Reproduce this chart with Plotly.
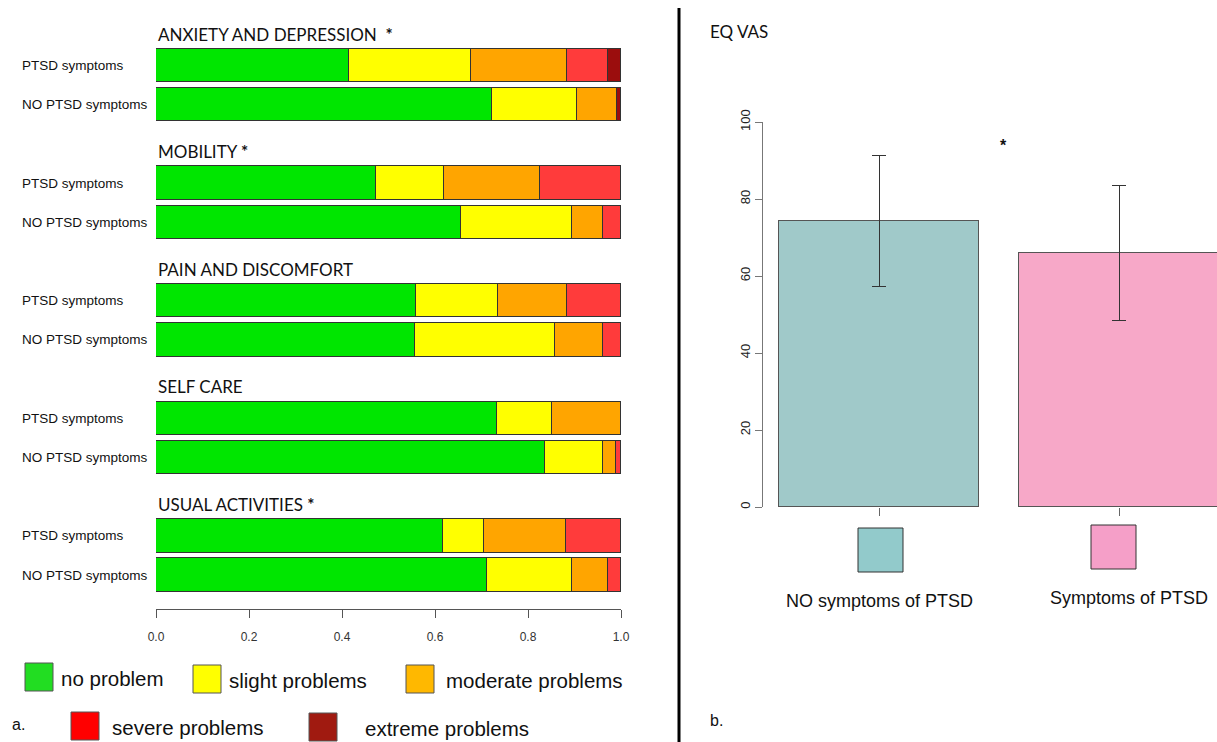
import plotly.graph_objects as go

W, H = 1217, 742

# ---------------- data: panel a (EQ-5D dimensions) ----------------
groups = ["ANXIETY AND DEPRESSION", "MOBILITY", "PAIN AND DISCOMFORT", "SELF CARE", "USUAL ACTIVITIES"]
significant = [True, True, False, False, True]
star_style = ["  <b>*</b>", " <b>*</b>", "", "", " <b>*</b>"]
row_labels = ["PTSD symptoms", "NO PTSD symptoms"]

levels = ["no problem", "slight problems", "moderate problems", "severe problems", "extreme problems"]
no_problem = [0.414, 0.722, 0.473, 0.655, 0.559, 0.557, 0.734, 0.836, 0.617, 0.712]
slight     = [0.263, 0.183, 0.146, 0.240, 0.177, 0.300, 0.118, 0.125, 0.089, 0.182]
moderate   = [0.207, 0.086, 0.207, 0.067, 0.147, 0.105, 0.148, 0.028, 0.176, 0.077]
severe     = [0.088, None,  0.174, 0.038, 0.117, 0.038, None,  0.011, 0.118, 0.029]
extreme    = [0.028, 0.009, None,  None,  None,  None,  None,  None,  None,  None]
x_ticks = [0.0, 0.2, 0.4, 0.6, 0.8, 1.0]

# ---------------- data: panel b (EQ VAS) ----------------
vas_groups = ["NO symptoms of PTSD", "Symptoms of PTSD"]
vas_mean = [74.3, 66.0]
vas_sd = [17.0, 17.6]
vas_ticks = [0, 20, 40, 60, 80, 100]

# ---------------- styling ----------------
bar_colors = ["#00E600", "#FFFF00", "#FFA500", "#FF3B3B", "#9B0D0D"]
legend_colors = ["#22DD22", "#FFFF00", "#FFB800", "#FF0000", "#A01A10"]
vas_bar_colors = ["#A0C9C9", "#F7A8C8"]
vas_sq_colors = ["#92CACB", "#F59FC8"]


def px(x):
    return x / W


def py(y):
    return 1 - y / H


# y positions (row units): group g -> PTSD at 3g, NO at 3g+1
ypos = []
for g in range(len(groups)):
    ypos += [3 * g, 3 * g + 1]
unit = 39.2
top0 = 65.5
y_bottom_px = 609
y_rng = [-top0 / unit + y_bottom_px / unit, -top0 / unit]

fig = go.Figure()
series = [no_problem, slight, moderate, severe, extreme]
for name, vals, col in zip(levels, series, bar_colors):
    fig.add_trace(go.Bar(
        x=vals, y=ypos, orientation="h", name=name,
        marker=dict(color=col, line=dict(color="#333333", width=1)),
        width=0.85, xaxis="x", yaxis="y", showlegend=False))

fig.add_trace(go.Bar(
    x=[0, 1], y=vas_mean, name="EQ VAS", width=0.833,
    marker=dict(color=vas_bar_colors, line=dict(color="#555555", width=1)),
    error_y=dict(type="data", array=vas_sd, color="#333333", thickness=1, width=7),
    xaxis="x2", yaxis="y2", showlegend=False))

annotations = []
for g, name in enumerate(groups):
    txt = name + (star_style[g] if significant[g] else "")
    annotations.append(dict(x=0, y=3 * g - 0.8, xref="x", yref="y", text=txt,
                            showarrow=False, xanchor="left", yanchor="middle",
                            font=dict(family="Lato", size=17, color="#111111")))
    for r, lab in enumerate(row_labels):
        annotations.append(dict(x=px(20), y=3 * g + r, xref="paper", yref="y", text=lab,
                                showarrow=False, xanchor="left", yanchor="middle",
                                font=dict(family="Liberation Sans", size=13.5, color="#111111")))

shapes = []
# left legend: (level index, square left px, row centre px, text left px)
leg_items = [(0, 25, 677, 59), (1, 193, 679, 227), (2, 406, 679, 444),
             (3, 71, 726, 110), (4, 309, 727, 363)]
for idx, sx, sy, tx in leg_items:
    shapes.append(dict(type="rect", xref="paper", yref="paper",
                       x0=px(sx), x1=px(sx + 28), y0=py(sy + 14), y1=py(sy - 14),
                       fillcolor=legend_colors[idx], line=dict(color="#555555", width=1)))
    annotations.append(dict(x=px(tx), y=py(sy + 1), xref="paper", yref="paper", text=levels[idx],
                            showarrow=False, xanchor="left", yanchor="middle",
                            font=dict(family="Liberation Sans", size=20.5, color="#111111")))

annotations.append(dict(x=px(10), y=py(724), xref="paper", yref="paper", text="a.",
                        showarrow=False, xanchor="left", yanchor="middle",
                        font=dict(family="Liberation Sans", size=16, color="#111111")))
annotations.append(dict(x=px(708), y=py(720), xref="paper", yref="paper", text="b.",
                        showarrow=False, xanchor="left", yanchor="middle",
                        font=dict(family="Liberation Sans", size=16, color="#111111")))
annotations.append(dict(x=px(708), y=py(32), xref="paper", yref="paper", text="EQ VAS",
                        showarrow=False, xanchor="left", yanchor="middle",
                        font=dict(family="Lato", size=17, color="#111111")))
annotations.append(dict(x=0.52, y=93.8, xref="x2", yref="y2", text="<b>*</b>",
                        showarrow=False, xanchor="center", yanchor="middle",
                        font=dict(family="Liberation Sans", size=16, color="#111111")))

# right legend squares and labels
sq = [(858, 550), (1091, 547)]
lab_pos = [(879, 601), (1129, 598)]
for i in range(2):
    sx, sy = sq[i]
    shapes.append(dict(type="rect", xref="paper", yref="paper",
                       x0=px(sx), x1=px(sx + 45), y0=py(sy + 22), y1=py(sy - 22),
                       fillcolor=vas_sq_colors[i], line=dict(color="#333333", width=1)))
    annotations.append(dict(x=px(lab_pos[i][0]), y=py(lab_pos[i][1]), xref="paper", yref="paper",
                            text=vas_groups[i], showarrow=False, xanchor="center", yanchor="middle",
                            font=dict(family="Liberation Sans", size=18, color="#111111")))

# divider line
shapes.append(dict(type="line", xref="paper", yref="paper", x0=px(679), x1=px(679),
                   y0=0, y1=py(8), line=dict(color="#000000", width=3)))

fig.update_layout(
    width=W, height=H, autosize=False,
    margin=dict(l=0, r=0, t=0, b=0, pad=0, autoexpand=False),
    paper_bgcolor="white", plot_bgcolor="white",
    barmode="stack", bargap=0,
    xaxis=dict(domain=[px(156), px(621)], range=[0, 1], anchor="y",
               showline=True, linecolor="#555555", linewidth=1,
               ticks="outside", ticklen=8, tickcolor="#555555", ticklabelstandoff=9,
               tickvals=x_ticks, tickformat=".1f", showgrid=False, zeroline=False,
               tickfont=dict(family="Liberation Sans", size=12, color="#333333")),
    yaxis=dict(domain=[py(y_bottom_px), 1], range=y_rng, anchor="x",
               showticklabels=False, showgrid=False, zeroline=False, showline=False),
    xaxis2=dict(domain=[px(763), 1], range=[(763 - 879) / 240, (1217 - 879) / 240],
                anchor="y2", showline=False, showgrid=False, zeroline=False,
                ticks="outside", ticklen=8, tickcolor="#666666", tickvals=[0, 1],
                showticklabels=False),
    yaxis2=dict(domain=[py(507), py(122)], range=[0, 100], anchor="x2",
                showline=True, linecolor="#777777", linewidth=1,
                ticks="outside", ticklen=7, tickcolor="#777777",
                tickvals=vas_ticks, tickangle=-90, showgrid=False, zeroline=False,
                tickfont=dict(family="Liberation Sans", size=13, color="#222222")),
    annotations=annotations, shapes=shapes,
)

fig.write_html(
    "out.html",
    config={"responsive": False, "displayModeBar": False},
    post_script="document.body.style.margin='0';document.body.style.padding='0';"
                "document.body.style.overflow='hidden';",
)
